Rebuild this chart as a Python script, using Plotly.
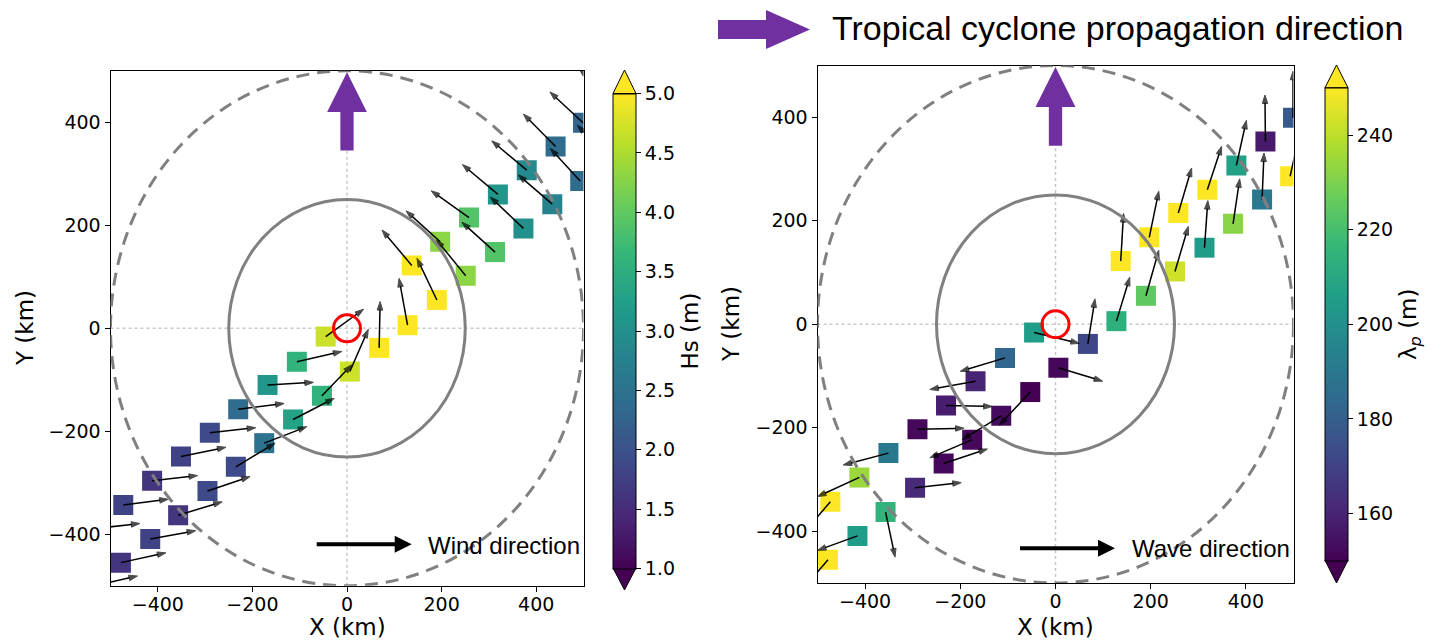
import plotly.graph_objects as go

W, H = 1442, 644

# ---- sample positions relative to the storm centre (km), two swath tracks ----
track_a_x = [-534, -473, -412, -351, -290, -230, -168, -106, -45, 137, 197, 258, 319, 380, 441, 499, 560]
track_a_y = [-389, -343, -296, -249, -203, -157, -110, -65, -16, 122, 168, 215, 260, 307, 353, 399, 445]
track_b_x = [-539, -478, -416, -357, -295, -235, -175, -114, -53, 6, 68, 128, 190, 251, 313, 373, 434, 493, 554]
track_b_y = [-501, -455, -409, -363, -316, -269, -223, -177, -131, -84, -38, 6, 55, 102, 148, 194, 241, 286, 333]

# ---- significant wave height (m) and wind vectors (km-equivalent arrow components) ----
hs_a = [1.7, 1.8, 1.6, 1.8, 1.9, 2.4, 3.1, 3.6, 4.7, 5.0, 4.3, 3.9, 3.1, 2.9, 2.4, 2.3, 2.2]
wind_u_a = [96, 95, 96, 95, 97, 97, 97, 95, 80, -63, -72, -80, -75, -74, -68, -70, -70]
wind_v_a = [10, 11, 10, 18, 10, 11, 5, 20, 53, 69, 60, 52, 58, 57, 63, 60, 60]
hs_b = [1.6, 1.6, 1.8, 1.6, 1.9, 1.9, 2.5, 3.3, 3.6, 4.7, 5.0, 5.0, 5.0, 4.3, 3.9, 3.0, 2.8, 2.4, 2.3]
wind_u_b = [96, 95, 96, 93, 90, 83, 90, 87, 63, 39, 2, -18, -42, -62, -70, -70, -72, -63, -67]
wind_v_b = [20, 19, 16, 26, 28, 46, 32, 41, 60, 82, 90, 91, 81, 70, 58, 61, 57, 63, 61]

# ---- peak wavelength (m) and wave direction vectors; None = no observation ----
lam_a = [None, 250, 235, 190, 152, 158, 160, 183, 205, 250, 250, 250, 250, 207, 157, 178, None]
wave_u_a = [None, -65, -88, -95, 98, 97, -96, -94, 95, 6, 20, 28, 30, 21, -1, 0, None]
wave_v_a = [None, -70, -37, -23, 2, -2, -16, -26, -21, 92, 89, 87, 84, 87, 90, 90, None]
lam_b = [None, 250, 205, 215, 162, 152, 152, 153, 150, 152, 172, 213, 225, 243, 205, 232, 190, 250, None]
wave_u_b = [None, -65, -84, 20, 97, 92, -89, -82, -65, 93, 15, 28, 27, 28, 7, 14, 4, 20, None]
wave_v_b = [None, -70, -28, -87, 10, 28, -35, -46, -64, -26, 87, 85, 88, 87, 91, 87, 90, 85, None]

hs_ticks = [1.0, 1.5, 2.0, 2.5, 3.0, 3.5, 4.0, 4.5, 5.0]
lam_ticks = [160, 180, 200, 220, 240]
km_ticks = [-400, -200, 0, 200, 400]

TICK_FONT = dict(family="DejaVu Sans", size=19, color="black")
LABEL_FONT = dict(family="DejaVu Sans", size=23, color="black")
TEXT_FONT = dict(family="Liberation Sans, Arial, sans-serif", size=24, color="black")
PURPLE = "#7030a0"
GREY = "#808080"


def px(x):
    return x / W


def py(y):
    return 1 - y / H


fig = go.Figure()


def squares(xs, ys, vals, xa, ya, cmin, cmax, cbar):
    keep = [i for i, v in enumerate(vals) if v is not None]
    fig.add_trace(go.Scatter(
        x=[xs[i] for i in keep], y=[ys[i] for i in keep], mode="markers",
        marker=dict(symbol="square", size=20, color=[vals[i] for i in keep],
                    colorscale="Viridis", cmin=cmin, cmax=cmax,
                    showscale=cbar is not None, colorbar=cbar, line=dict(width=0)),
        xaxis=xa, yaxis=ya, showlegend=False, hoverinfo="skip"))


def arrows(xs, ys, us, vs, xa, ya):
    for x0, y0, u, v in zip(xs, ys, us, vs):
        if u is None:
            continue
        fig.add_trace(go.Scatter(
            x=[x0, x0 + u], y=[y0, y0 + v], mode="lines+markers",
            line=dict(color="black", width=1.5),
            marker=dict(symbol="arrow", size=[0, 9], angleref="previous", color="black",
                        line=dict(width=1, color="black")),
            xaxis=xa, yaxis=ya, showlegend=False, hoverinfo="skip"))


def colorbar(x0, top, bottom, ticks, title):
    return dict(
        x=px(x0), xanchor="left", y=py(top), yanchor="top",
        len=bottom - top, lenmode="pixels", thickness=23, thicknessmode="pixels",
        xpad=0, ypad=0, outlinewidth=1, outlinecolor="black",
        tickvals=ticks, ticktext=[f"{t:.1f}" if isinstance(t, float) else str(t) for t in ticks],
        ticks="outside", ticklen=5, tickcolor="black", tickfont=TICK_FONT,
        title=dict(text=title, side="right", font=LABEL_FONT))


cb_left = colorbar(613, 93.5, 568, hs_ticks, "Hs (m)")
cb_right = colorbar(1325, 87.75, 560.25, lam_ticks, "λ<sub><i>p</i></sub> (m)")

# squares (two tracks per panel, colourbar attached once)
squares(track_a_x, track_a_y, hs_a, "x", "y", 1, 5, cb_left)
squares(track_b_x, track_b_y, hs_b, "x", "y", 1, 5, None)
squares(track_a_x, track_a_y, lam_a, "x2", "y2", 150, 250, cb_right)
squares(track_b_x, track_b_y, lam_b, "x2", "y2", 150, 250, None)

arrows(track_a_x, track_a_y, wind_u_a, wind_v_a, "x", "y")
arrows(track_b_x, track_b_y, wind_u_b, wind_v_b, "x", "y")
arrows(track_a_x, track_a_y, wave_u_a, wave_v_a, "x2", "y2")
arrows(track_b_x, track_b_y, wave_u_b, wave_v_b, "x2", "y2")

# storm eye
for xa, ya in (("x", "y"), ("x2", "y2")):
    fig.add_trace(go.Scatter(
        x=[0], y=[0], mode="markers",
        marker=dict(symbol="circle-open", size=27, color="red", line=dict(width=3, color="red")),
        xaxis=xa, yaxis=ya, showlegend=False, hoverinfo="skip"))

axis_common = dict(
    range=[-500, 500], tickvals=km_ticks, ticks="outside", ticklen=5, tickwidth=1,
    tickcolor="black", showline=True, linecolor="black", linewidth=1, mirror=True,
    showgrid=False, zeroline=False, tickfont=TICK_FONT, automargin=False, fixedrange=True)

fig.update_layout(
    width=W, height=H, margin=dict(l=0, r=0, t=0, b=0),
    paper_bgcolor="white", plot_bgcolor="white", showlegend=False,
    xaxis=dict(domain=[px(110.5), px(583.5)], anchor="y", ticklabelstandoff=-4, **axis_common),
    yaxis=dict(domain=[py(585.8), py(70.8)], anchor="x", **axis_common),
    xaxis2=dict(domain=[px(817.5), px(1293.5)], anchor="y2", ticklabelstandoff=-4, **axis_common),
    yaxis2=dict(domain=[py(583), py(65.5)], anchor="x2", **axis_common),
)

shapes = []
for xr, yr in (("x", "y"), ("x2", "y2")):
    shapes += [
        dict(type="line", xref=xr, yref=yr, x0=0, x1=0, y0=-500, y1=500,
             line=dict(color="#c8c8c8", width=1.5, dash="dot"), layer="below"),
        dict(type="line", xref=xr, yref=yr, x0=-500, x1=500, y0=0, y1=0,
             line=dict(color="#c8c8c8", width=1.5, dash="dot"), layer="below"),
        dict(type="circle", xref=xr, yref=yr, x0=-250, x1=250, y0=-250, y1=250,
             line=dict(color=GREY, width=3), layer="above"),
        dict(type="circle", xref=xr, yref=yr, x0=-500, x1=500, y0=-500, y1=500,
             line=dict(color=GREY, width=3, dash="13px,8px"), layer="above"),
        dict(type="path", xref=xr, yref=yr,
             path="M -14,345 L 14,345 L 14,420 L 42,420 L 0,497 L -42,420 L -14,420 Z",
             fillcolor=PURPLE, line=dict(width=0), layer="above"),
    ]


def paper_path(points):
    return "M " + " L ".join(f"{px(x):.5f},{py(y):.5f}" for x, y in points) + " Z"


# colourbar extension triangles
for (x0, x1, top, bottom, tipt, tipb) in ((613, 636, 93.5, 568, 70, 590),
                                          (1325, 1348, 87.75, 560.25, 65, 583)):
    xm = (x0 + x1) / 2
    shapes.append(dict(type="path", xref="paper", yref="paper",
                       path=paper_path([(x0, top), (x1, top), (xm, tipt)]),
                       fillcolor="#fde725", line=dict(color="black", width=1)))
    shapes.append(dict(type="path", xref="paper", yref="paper",
                       path=paper_path([(x0, bottom), (x1, bottom), (xm, tipb)]),
                       fillcolor="#440154", line=dict(color="black", width=1)))

# propagation-direction key arrow
shapes.append(dict(type="path", xref="paper", yref="paper",
                   path=paper_path([(718, 20), (766, 20), (766, 10), (810, 29.5),
                                    (766, 49), (766, 39), (718, 39)]),
                   fillcolor=PURPLE, line=dict(width=0)))

# black key arrows for wind / wave direction
for tail, tip, yc in ((316.7, 411.7, 544.3), (1020, 1115, 548.3)):
    shapes.append(dict(type="path", xref="paper", yref="paper",
                       path=paper_path([(tail, yc - 2), (tip - 17, yc - 2), (tip - 17, yc - 8.5),
                                        (tip, yc), (tip - 17, yc + 8.5), (tip - 17, yc + 2),
                                        (tail, yc + 2)]),
                       fillcolor="black", line=dict(width=0)))
fig.update_layout(shapes=shapes)

annotations = [
    dict(text="Tropical cyclone propagation direction", x=px(830), y=py(28),
         xref="paper", yref="paper", xanchor="left", yanchor="middle", showarrow=False,
         font=dict(family="Liberation Sans, Arial, sans-serif", size=34, color="black")),
    dict(text="Wind direction", x=px(426), y=py(545), xref="paper", yref="paper",
         xanchor="left", yanchor="middle", showarrow=False, font=TEXT_FONT),
    dict(text="Wave direction", x=px(1130), y=py(548), xref="paper", yref="paper",
         xanchor="left", yanchor="middle", showarrow=False, font=TEXT_FONT),
    dict(text="X (km)", x=px(347), y=py(627), xref="paper", yref="paper",
         xanchor="center", yanchor="middle", showarrow=False, font=LABEL_FONT),
    dict(text="X (km)", x=px(1055.5), y=py(627), xref="paper", yref="paper",
         xanchor="center", yanchor="middle", showarrow=False, font=LABEL_FONT),
    dict(text="Y (km)", x=px(25), y=py(328), xref="paper", yref="paper",
         xanchor="center", yanchor="middle", showarrow=False, textangle=-90, font=LABEL_FONT),
    dict(text="Y (km)", x=px(731), y=py(324), xref="paper", yref="paper",
         xanchor="center", yanchor="middle", showarrow=False, textangle=-90, font=LABEL_FONT),
]
fig.update_layout(annotations=annotations)

fig.write_html("out.html")
